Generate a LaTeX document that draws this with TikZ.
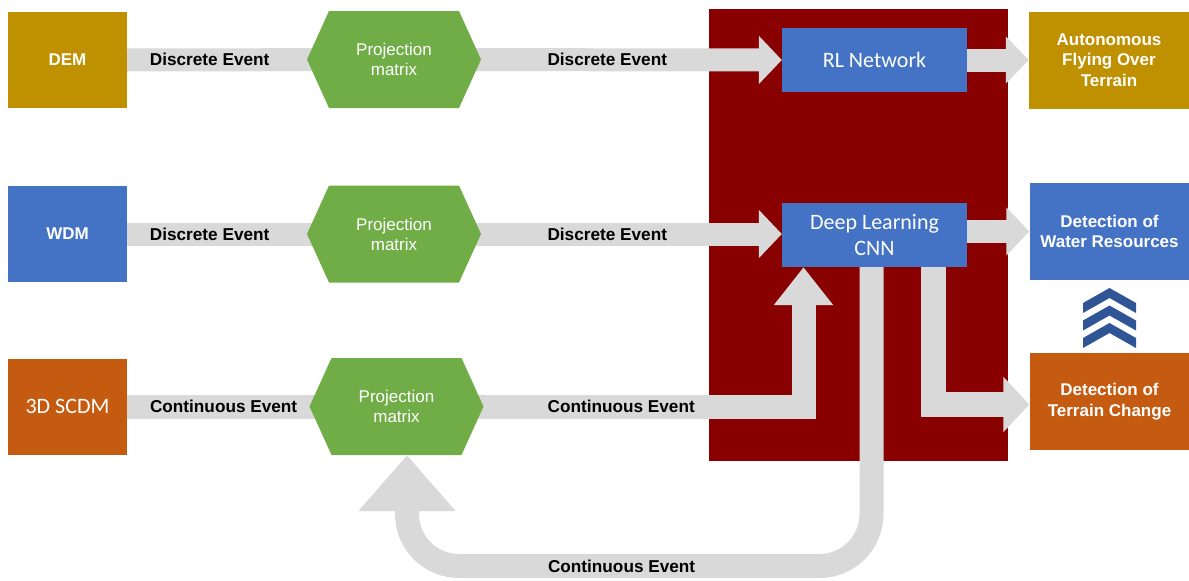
\documentclass[tikz,border=0pt]{standalone}
\usepackage{fontspec}
\setmainfont{Liberation Sans}
\newfontfamily\calibri{Carlito}
\usetikzlibrary{arrows.meta,calc}
\definecolor{GoldClr}{RGB}{191,144,0}
\definecolor{BlueClr}{RGB}{68,114,196}
\definecolor{OrangeClr}{RGB}{197,90,17}
\definecolor{GreenClr}{RGB}{112,173,71}
\definecolor{RedClr}{RGB}{136,0,0}
\definecolor{BarClr}{RGB}{217,217,217}
\definecolor{ChevClr}{RGB}{47,85,151}
\pgfdeclarelayer{back}
\pgfdeclarelayer{bars}
\pgfsetlayers{back,bars,main}

\tikzset{
  box/.style={inner sep=0pt,align=center,text=white,font=\fontsize{17}{20.5}\selectfont\bfseries},
  src/.style={box,minimum width=119pt,minimum height=96pt},
  res/.style={box,minimum width=160pt,minimum height=97pt},
  net/.style={box,fill=BlueClr,minimum width=185pt,minimum height=64pt,font=\fontsize{22}{26}\selectfont\calibri},
  proj/.style={rectangle,minimum width=174pt,minimum height=97pt,inner sep=0pt,
    text=white,align=center,font=\fontsize{17}{20}\selectfont,
    path picture={\fill[GreenClr] (path picture bounding box.west)
      -- ([xshift=22pt]path picture bounding box.north west)
      -- ([xshift=-22pt]path picture bounding box.north east)
      -- (path picture bounding box.east)
      -- ([xshift=-22pt]path picture bounding box.south east)
      -- ([xshift=22pt]path picture bounding box.south west) -- cycle;}},
  bar/.style={draw=BarClr,line width=23pt},
  lbl/.style={font=\fontsize{17.2}{20}\selectfont\bfseries,text=black,inner sep=0pt},
}

\begin{document}
\begin{tikzpicture}[x=1pt,y=-1pt]
\useasboundingbox (0,0) rectangle (1189,581);

% inputs
\node[src,fill=GoldClr] (dem) at (67.5,60) {DEM};
\node[src,fill=BlueClr] (wdm) at (67.5,234) {WDM};
\node[src,fill=OrangeClr,font=\fontsize{22}{26}\selectfont\calibri] (scdm) at (67.5,406.5) {3D SCDM};

% projection
\node[proj] (hex1) at (394,59.5) {Projection\\matrix};
\node[proj] (hex2) at (394,234) {Projection\\matrix};
\node[proj] (hex3) at (396.5,406.5) {Projection\\matrix};

% networks
\node[net] (rl) at (874.5,60) {RL Network};
\node[net] (cnn) at (874.5,235) {Deep Learning\\CNN};

% results
\node[res,fill=GoldClr] (auto) at (1109,60) {Autonomous\\Flying Over\\Terrain};
\node[res,fill=BlueClr] (water) at (1109.5,231.5) {Detection of\\Water Resources};
\node[res,fill=OrangeClr] (terr) at (1109.5,401.5) {Detection of\\Terrain Change};

\coordinate (fbx) at (407,566);

\foreach \dy in {0,17.5,35}{
  \fill[ChevClr] (1083,{303+\dy}) -- (1109.5,{288+\dy}) -- (1136,{303+\dy})
    -- (1136,{313+\dy}) -- (1109.5,{298+\dy}) -- (1083,{313+\dy}) -- cycle;
}

\begin{pgfonlayer}{back}
\fill[RedClr] (709,9) rectangle (1008,461);
\end{pgfonlayer}

\begin{pgfonlayer}{bars}
\draw[bar] (dem.east) -- node[lbl,pos=.309] (d1) {Discrete Event} (hex1.center);
\draw[bar,-{Triangle[length=23pt,width=47pt]}] (hex1.center) -- node[lbl,pos=.55] (d2) {Discrete Event} (rl.west);
\draw[bar,-{Triangle[length=23pt,width=46pt]}] (rl.east) -- (auto.west);

\draw[bar] (wdm.east) -- node[lbl,pos=.309] (d3) {Discrete Event} (hex2.center);
\draw[bar,-{Triangle[length=23pt,width=47pt]}] (hex2.center) -- node[lbl,pos=.55] (d4) {Discrete Event} (hex2.center -| cnn.west);
\draw[bar,-{Triangle[length=23pt,width=47pt]}] (cnn.east |- water.west) -- (water.west);

\draw[bar,line width=24pt] (scdm.east) -- node[lbl,pos=.358] (c1) {Continuous Event} (hex3.center);
\draw[bar,line width=24pt,-{Triangle[length=38pt,width=57pt]}] (hex3.center) -| node[lbl,pos=.276] (c2) {Continuous Event} ([xshift=-71pt]cnn.south);
\draw[bar,line width=25pt,-{Triangle[length=26pt,width=54pt]}] ([xshift=58.5pt]cnn.south) |- ([yshift=-3pt]terr.west);
\draw[bar,line width=24pt,rounded corners=52pt,-{Triangle[length=56pt,width=94pt]}] ([xshift=-3pt]cnn.south) -- ([xshift=-3pt]cnn.south |- fbx) -- node[lbl,pos=.538] (c3) {Continuous Event} (fbx) -- (hex3.south -| fbx);
\end{pgfonlayer}

\end{tikzpicture}
\end{document}
